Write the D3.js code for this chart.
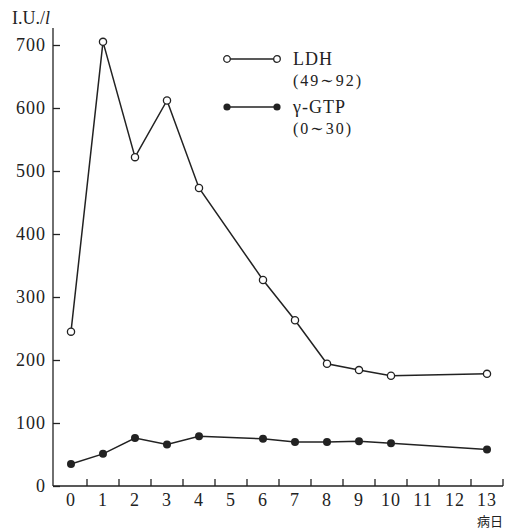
<!DOCTYPE html>
<html>
<head>
<meta charset="utf-8">
<script src="https://cdn.jsdelivr.net/npm/d3@7"></script>
<style>
  html, body { margin: 0; padding: 0; background: #fff; }
  svg { display: block; font-family: "Liberation Serif", "DejaVu Serif", serif; }
  .axis path, .axis line { stroke: #222; stroke-width: 1.3; }
  .axis text { fill: #222; font-size: 18px; letter-spacing: 1px; font-family: "Liberation Serif", "DejaVu Serif", serif; }
</style>
</head>
<body>
<div id="chart"></div>
<script>
// data
const dayLabels = [0, 1, 2, 3, 4, 5, 6, 7, 8, 9, 10, 11, 12, 13];
const days = [0, 1, 2, 3, 4, 6, 7, 8, 9, 10, 13];
const ldh = [245, 705, 522, 612, 473, 327, 263, 194, 184, 175, 178];
const ggtp = [35, 51, 76, 66, 79, 75, 70, 70, 71, 68, 58];
const yTicks = [0, 100, 200, 300, 400, 500, 600, 700];
const seriesNames = ["LDH", "γ-GTP"];
const seriesRanges = ["(49∼92)", "(0∼30)"];

// dimensions
const w = 516;
const h = 530;
const axisX = 53;

const svg = d3.select("#chart")
  .append("svg")
  .attr("width", w)
  .attr("height", h);

// scales
const xScale = d3.scaleBand()
  .domain(dayLabels)
  .range([55, 503]);
const yScale = d3.scaleLinear()
  .domain([0, 700])
  .range([486, 45]);
const cx = d => xScale(d) + xScale.bandwidth() / 2;

// Y axis (ticks point inward)
const yAxis = d3.axisLeft(yScale)
  .tickValues(yTicks)
  .tickSizeInner(-7)
  .tickSizeOuter(0)
  .tickPadding(7);
const gy = svg.append("g")
  .attr("class", "axis")
  .attr("transform", `translate(${axisX}, 0)`)
  .call(yAxis);
gy.select(".domain").remove();
gy.append("line")
  .attr("x1", 0).attr("x2", 0)
  .attr("y1", yScale(0))
  .attr("y2", yScale(727));

// X axis: labels in band centres, ticks on band edges
const xAxis = d3.axisBottom(xScale)
  .tickSize(0)
  .tickPadding(7);
const gx = svg.append("g")
  .attr("class", "axis")
  .attr("transform", `translate(0, ${yScale(0)})`)
  .call(xAxis);
gx.select(".domain").remove();
gx.append("line")
  .attr("x1", axisX)
  .attr("x2", xScale.range()[1])
  .attr("y1", 0).attr("y2", 0);
gx.selectAll(".edge")
  .data(dayLabels)
  .enter()
  .append("line")
  .attr("class", "edge")
  .attr("x1", d => xScale(d) + xScale.bandwidth())
  .attr("x2", d => xScale(d) + xScale.bandwidth())
  .attr("y1", 0)
  .attr("y2", -7);

// axis titles
const yTitle = svg.append("text")
  .attr("x", 12)
  .attr("y", 24)
  .attr("fill", "#222")
  .style("font-size", "18px");
yTitle.append("tspan").text("I.U./");
yTitle.append("tspan").attr("font-style", "italic").text("l");

svg.append("text")
  .attr("x", 503)
  .attr("y", 526)
  .attr("text-anchor", "end")
  .attr("fill", "#222")
  .style("font-family", "'Noto Sans CJK JP', sans-serif")
  .style("font-size", "13px")
  .text("病日");

// lines
const line = d3.line()
  .x(d => cx(d[0]))
  .y(d => yScale(d[1]));

const ldhData = days.map((d, i) => [d, ldh[i]]);
const ggtpData = days.map((d, i) => [d, ggtp[i]]);

svg.append("path")
  .datum(ldhData)
  .attr("d", line)
  .attr("fill", "none")
  .attr("stroke", "#222")
  .attr("stroke-width", 1.5);
svg.append("path")
  .datum(ggtpData)
  .attr("d", line)
  .attr("fill", "none")
  .attr("stroke", "#222")
  .attr("stroke-width", 1.5);

svg.selectAll(".ldh")
  .data(ldhData)
  .enter()
  .append("circle")
  .attr("class", "ldh")
  .attr("cx", d => cx(d[0]))
  .attr("cy", d => yScale(d[1]))
  .attr("r", 3.6)
  .attr("fill", "#fff")
  .attr("stroke", "#222")
  .attr("stroke-width", 1.3);
svg.selectAll(".ggtp")
  .data(ggtpData)
  .enter()
  .append("circle")
  .attr("class", "ggtp")
  .attr("cx", d => cx(d[0]))
  .attr("cy", d => yScale(d[1]))
  .attr("r", 4)
  .attr("fill", "#222");

// legend
const legendY = [59, 107];
const legend = svg.selectAll(".legend")
  .data(seriesNames)
  .enter()
  .append("g")
  .attr("class", "legend")
  .attr("transform", (d, i) => `translate(227, ${legendY[i]})`);
legend.append("line")
  .attr("x1", 0).attr("x2", 50)
  .attr("y1", 0).attr("y2", 0)
  .attr("stroke", "#222")
  .attr("stroke-width", 1.5);
legend.each(function(d, i) {
  const g = d3.select(this);
  [0, 50].forEach(x => {
    g.append("circle")
      .attr("cx", x)
      .attr("cy", 0)
      .attr("r", i === 0 ? 3.3 : 3.6)
      .attr("fill", i === 0 ? "#fff" : "#222")
      .attr("stroke", "#222")
      .attr("stroke-width", i === 0 ? 1.3 : 0);
  });
});
legend.append("text")
  .attr("x", 66)
  .attr("y", 6)
  .attr("fill", "#222")
  .style("font-size", "18px")
  .style("letter-spacing", "1px")
  .text(d => d);
legend.append("text")
  .attr("x", 66)
  .attr("y", 27)
  .attr("fill", "#222")
  .style("font-size", "16px")
  .style("letter-spacing", "2px")
  .text((d, i) => seriesRanges[i]);
</script>
</body>
</html>
